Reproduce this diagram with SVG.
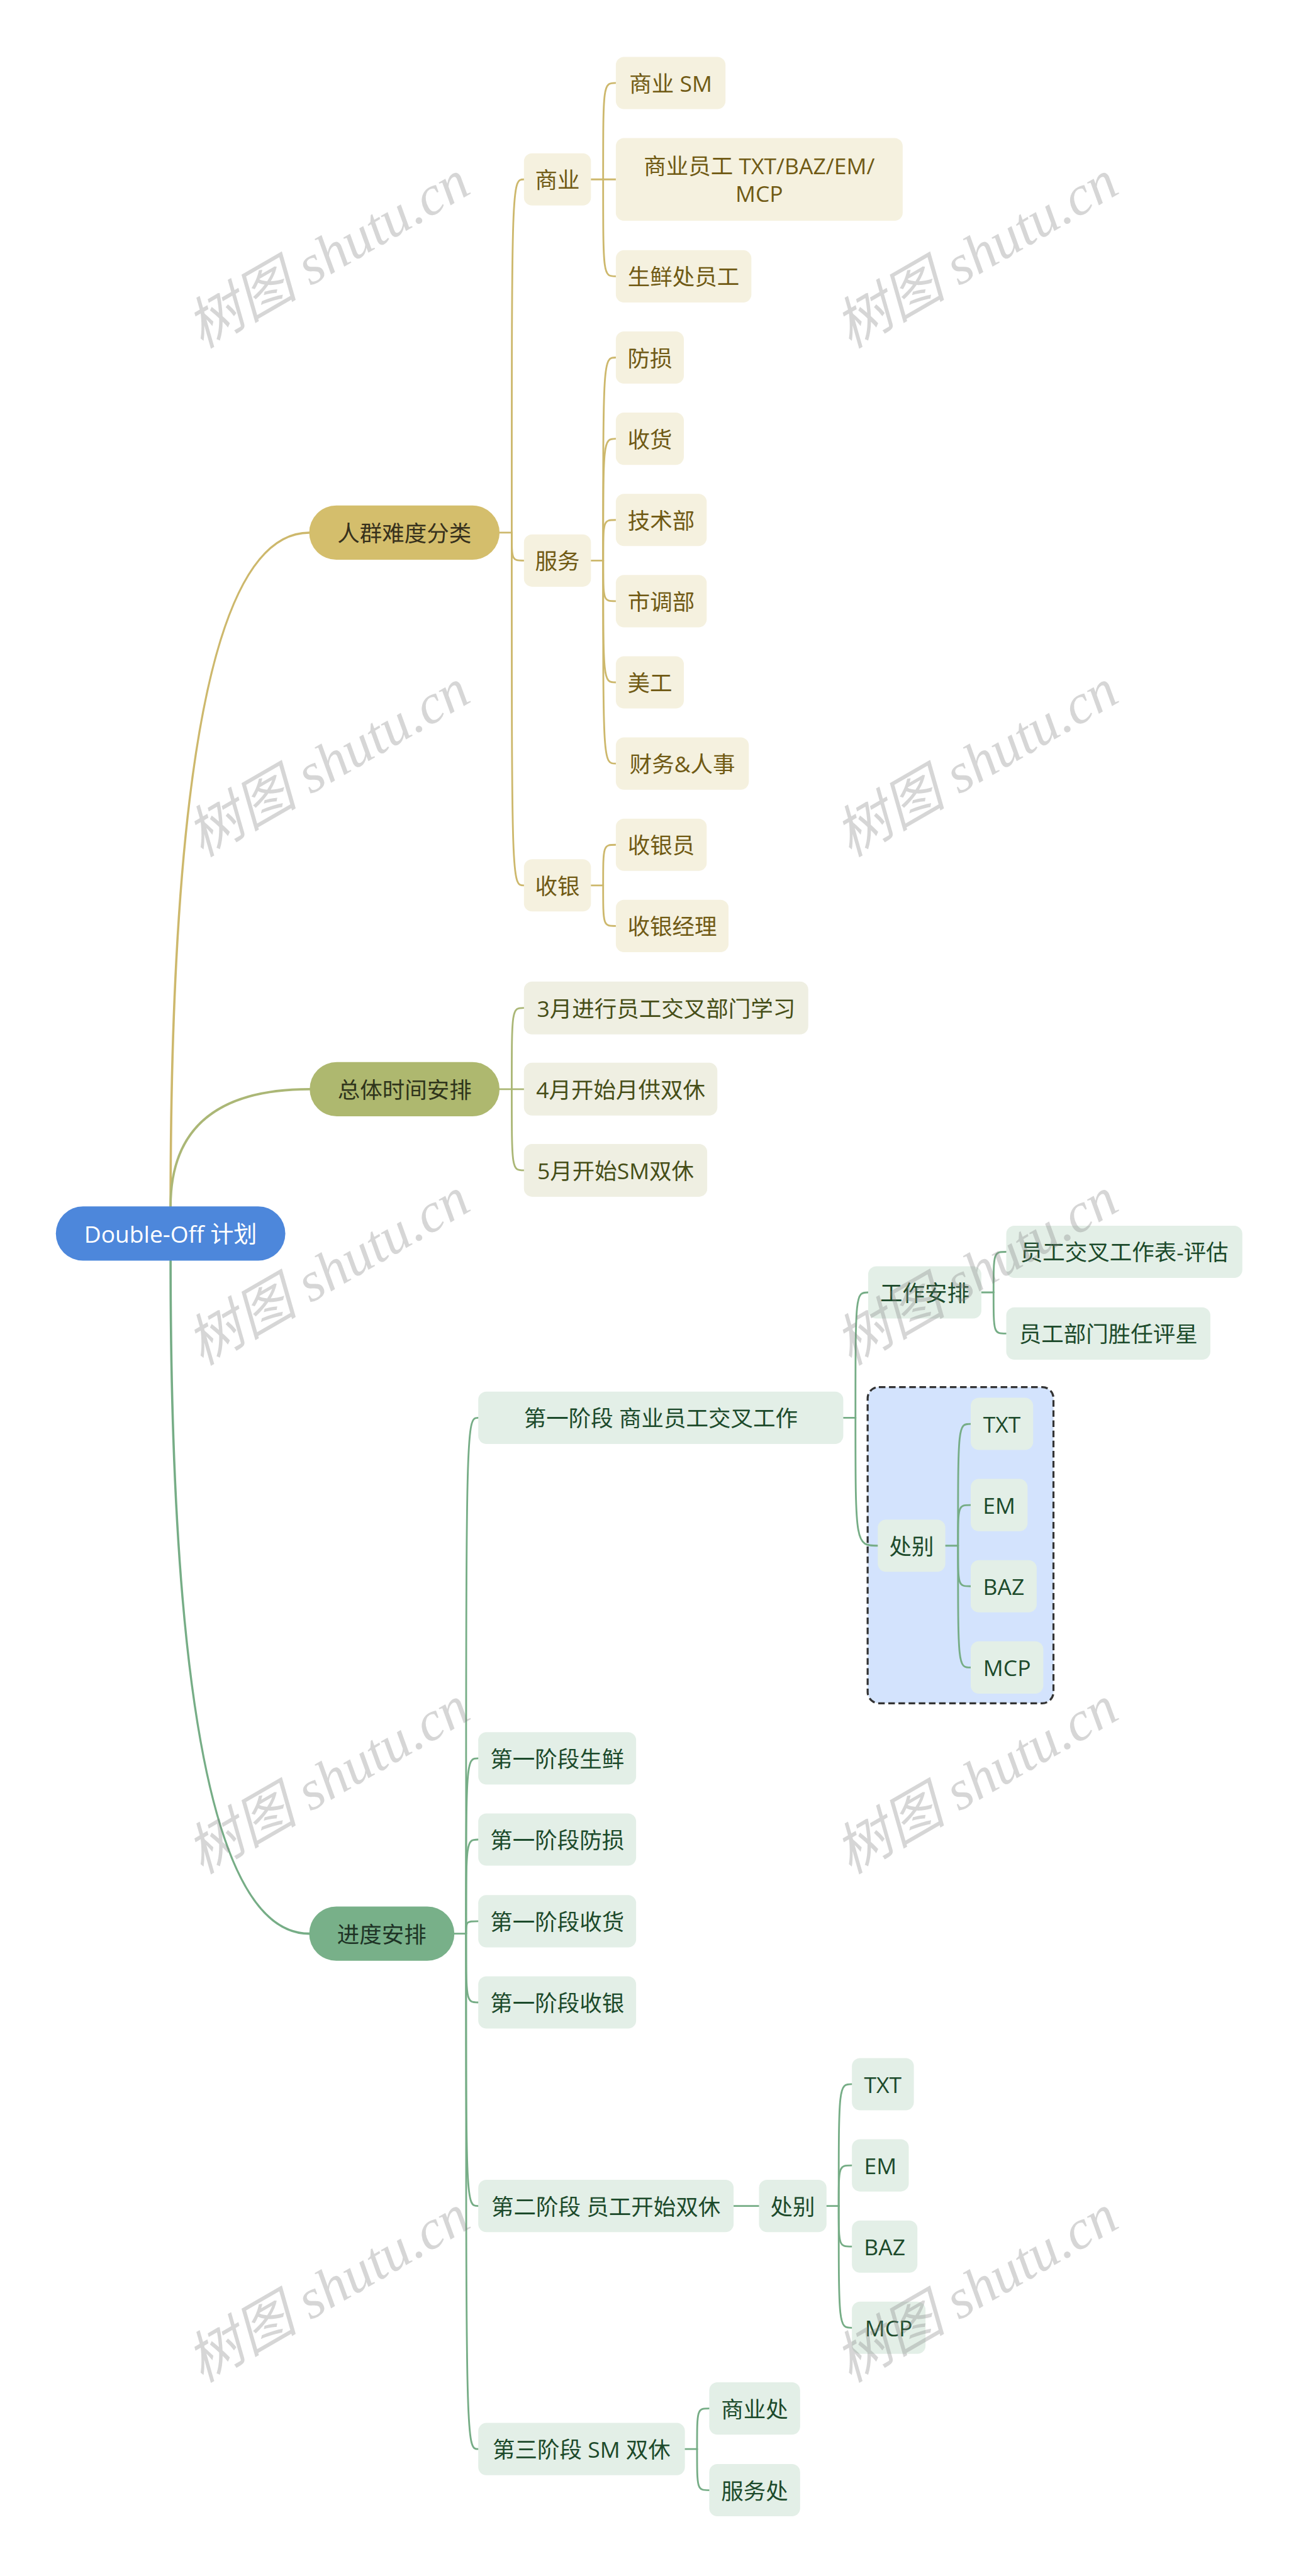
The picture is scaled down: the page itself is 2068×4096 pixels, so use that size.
<svg xmlns="http://www.w3.org/2000/svg" width="2068" height="4096" viewBox="0 0 2068 4096">
<style>
.t{font-family:"Open Sans","Noto Sans CJK SC",sans-serif;font-size:44px;text-anchor:middle;dominant-baseline:central}
.root rect{fill:#4d87db}.root text{fill:#ffffff;font-size:46px}
.g1 rect{fill:#d4be6c}.g1 text{fill:#37311c}
.g2 rect{fill:#f5f1df}.g2 text{fill:#705a14}
.o1 rect{fill:#aeb86f}.o1 text{fill:#2f341b}
.o2 rect{fill:#efefe2}.o2 text{fill:#464e17}
.e1 rect{fill:#78b089}.e1 text{fill:#1e3326}
.e2 rect{fill:#e3efe7}.e2 text{fill:#1c4a2b}
.c path{fill:none;stroke-width:3.5;stroke-linecap:round}
.cg path{stroke:#cdb86c}.co path{stroke:#abb776}.ce path{stroke:#76ad86}
.main{stroke-width:4.5 !important}
.wm{font-family:"Liberation Serif","Noto Sans CJK SC",serif;font-style:italic;font-size:110px;fill:#808080;fill-opacity:0.32;text-anchor:middle;dominant-baseline:central}
</style>
<rect width="2068" height="4096" fill="#ffffff"/>
<g transform="scale(0.807)">
<g id="boundary">
<rect x="1709" y="2733" width="366" height="623" rx="22" fill="#d3e3fd" stroke="#333333" stroke-width="4" stroke-dasharray="13 7"/>
</g>
<g id="connectors" class="c">
<g class="cg">
<path class="main" d="M336 2377 Q336 1049.5 609 1049.5"/>
<path d="M984 1049.5 H1008"/>
<path d="M1008 1049.5 C1008 353.5 1008 353.5 1032 353.5"/>
<path d="M1008 1049.5 C1008 1104.5 1008 1104.5 1032 1104.5"/>
<path d="M1008 1049.5 C1008 1744.5 1008 1744.5 1032 1744.5"/>
<path d="M1164 353.5 H1188"/>
<path d="M1188 353.5 C1188 163.5 1188 163.5 1213 163.5"/>
<path d="M1188 353.5 H1213"/>
<path d="M1188 353.5 C1188 544.5 1188 544.5 1213 544.5"/>
<path d="M1164 1104.5 H1188"/>
<path d="M1188 1104.5 C1188 704.5 1188 704.5 1213 704.5"/>
<path d="M1188 1104.5 C1188 864.5 1188 864.5 1213 864.5"/>
<path d="M1188 1104.5 C1188 1024.5 1188 1024.5 1213 1024.5"/>
<path d="M1188 1104.5 C1188 1184.5 1188 1184.5 1213 1184.5"/>
<path d="M1188 1104.5 C1188 1344.5 1188 1344.5 1213 1344.5"/>
<path d="M1188 1104.5 C1188 1504.5 1188 1504.5 1213 1504.5"/>
<path d="M1164 1744.5 H1188"/>
<path d="M1188 1744.5 C1188 1664.5 1188 1664.5 1213 1664.5"/>
<path d="M1188 1744.5 C1188 1824.5 1188 1824.5 1213 1824.5"/>
</g>
<g class="co">
<path class="main" d="M336 2377 Q336 2146 610 2146"/>
<path d="M984 2146 H1008"/>
<path d="M1008 2146 C1008 1986 1008 1986 1032 1986"/>
<path d="M1008 2146 H1032"/>
<path d="M1008 2146 C1008 2306 1008 2306 1032 2306"/>
</g>
<g class="ce">
<path class="main" d="M336 2484 Q336 3810 609 3810"/>
<path d="M895 3810 H918"/>
<path d="M918 3810 C918 2793.5 918 2793.5 942 2793.5"/>
<path d="M918 3810 C918 3464.5 918 3464.5 942 3464.5"/>
<path d="M918 3810 C918 3624.5 918 3624.5 942 3624.5"/>
<path d="M918 3810 C918 3785.5 918 3785.5 942 3785.5"/>
<path d="M918 3810 C918 3945.5 918 3945.5 942 3945.5"/>
<path d="M918 3810 C918 4346.5 918 4346.5 942 4346.5"/>
<path d="M918 3810 C918 4825.5 918 4825.5 942 4825.5"/>
<path d="M1661 2793.5 H1685"/>
<path d="M1685 2793.5 C1685 2546.5 1685 2546.5 1710 2546.5"/>
<path d="M1685 2793.5 C1685 3045.5 1685 3045.5 1729 3045.5"/>
<path d="M1933 2546.5 H1957"/>
<path d="M1957 2546.5 C1957 2466.5 1957 2466.5 1982 2466.5"/>
<path d="M1957 2546.5 C1957 2627.5 1957 2627.5 1982 2627.5"/>
<path d="M1862 3045.5 H1887"/>
<path d="M1887 3045.5 C1887 2805.5 1887 2805.5 1912 2805.5"/>
<path d="M1887 3045.5 C1887 2965.5 1887 2965.5 1912 2965.5"/>
<path d="M1887 3045.5 C1887 3125.5 1887 3125.5 1912 3125.5"/>
<path d="M1887 3045.5 C1887 3285.5 1887 3285.5 1912 3285.5"/>
<path d="M1445 4346.5 H1495"/>
<path d="M1628 4346.5 H1652"/>
<path d="M1652 4346.5 C1652 4106.5 1652 4106.5 1678 4106.5"/>
<path d="M1652 4346.5 C1652 4266.5 1652 4266.5 1678 4266.5"/>
<path d="M1652 4346.5 C1652 4426.5 1652 4426.5 1678 4426.5"/>
<path d="M1652 4346.5 C1652 4586.5 1652 4586.5 1678 4586.5"/>
<path d="M1349 4825.5 H1373"/>
<path d="M1373 4825.5 C1373 4745.5 1373 4745.5 1397 4745.5"/>
<path d="M1373 4825.5 C1373 4906.5 1373 4906.5 1397 4906.5"/>
</g>
</g>
<g id="root" class="root"><rect x="110" y="2377" width="452" height="107" rx="53.5"/><text class="t" x="336" y="2430.5">Double-Off 计划</text></g>
<g id="n-renqun" class="g1"><rect x="609" y="996" width="375" height="107" rx="53.5"/><text class="t" x="796.5" y="1049.5">人群难度分类</text></g>
<g id="n-shangye" class="g2"><rect x="1032" y="302" width="132" height="103" rx="16"/><text class="t" x="1098" y="353.5">商业</text></g>
<g id="n-sm" class="g2"><rect x="1213" y="112" width="216" height="103" rx="16"/><text class="t" x="1321" y="163.5">商业 SM</text></g>
<g id="n-syyg" class="g2"><rect x="1213" y="272" width="565" height="163" rx="16"/><text class="t" x="1495.5" y="326.5">商业员工 TXT/BAZ/EM/</text><text class="t" x="1495.5" y="380.5">MCP</text></g>
<g id="n-sxc" class="g2"><rect x="1213" y="493" width="267" height="103" rx="16"/><text class="t" x="1346.5" y="544.5">生鲜处员工</text></g>
<g id="n-fuwu" class="g2"><rect x="1032" y="1053" width="132" height="103" rx="16"/><text class="t" x="1098" y="1104.5">服务</text></g>
<g id="n-fangsun" class="g2"><rect x="1213" y="653" width="134" height="103" rx="16"/><text class="t" x="1280" y="704.5">防损</text></g>
<g id="n-shouhuo" class="g2"><rect x="1213" y="813" width="134" height="103" rx="16"/><text class="t" x="1280" y="864.5">收货</text></g>
<g id="n-jishu" class="g2"><rect x="1213" y="973" width="179" height="103" rx="16"/><text class="t" x="1302.5" y="1024.5">技术部</text></g>
<g id="n-shidiao" class="g2"><rect x="1213" y="1133" width="179" height="103" rx="16"/><text class="t" x="1302.5" y="1184.5">市调部</text></g>
<g id="n-meigong" class="g2"><rect x="1213" y="1293" width="134" height="103" rx="16"/><text class="t" x="1280" y="1344.5">美工</text></g>
<g id="n-caiwu" class="g2"><rect x="1213" y="1453" width="262" height="103" rx="16"/><text class="t" x="1344" y="1504.5">财务&amp;人事</text></g>
<g id="n-shouyin" class="g2"><rect x="1032" y="1693" width="132" height="103" rx="16"/><text class="t" x="1098" y="1744.5">收银</text></g>
<g id="n-syy" class="g2"><rect x="1213" y="1613" width="179" height="103" rx="16"/><text class="t" x="1302.5" y="1664.5">收银员</text></g>
<g id="n-syjl" class="g2"><rect x="1213" y="1773" width="222" height="103" rx="16"/><text class="t" x="1324" y="1824.5">收银经理</text></g>
<g id="n-zongti" class="o1"><rect x="610" y="2092.5" width="374" height="107" rx="53.5"/><text class="t" x="797" y="2146">总体时间安排</text></g>
<g id="n-m3" class="o2"><rect x="1032" y="1934" width="560" height="104" rx="16"/><text class="t" x="1312" y="1986">3月进行员工交叉部门学习</text></g>
<g id="n-m4" class="o2"><rect x="1032" y="2094" width="381" height="104" rx="16"/><text class="t" x="1222.5" y="2146">4月开始月供双休</text></g>
<g id="n-m5" class="o2"><rect x="1032" y="2254" width="361" height="104" rx="16"/><text class="t" x="1212.5" y="2306">5月开始SM双休</text></g>
<g id="n-jindu" class="e1"><rect x="609" y="3756.5" width="286" height="107" rx="53.5"/><text class="t" x="752" y="3810">进度安排</text></g>
<g id="n-p1" class="e2"><rect x="942" y="2742" width="719" height="103" rx="16"/><text class="t" x="1301.5" y="2793.5">第一阶段 商业员工交叉工作</text></g>
<g id="n-gzap" class="e2"><rect x="1710" y="2495" width="223" height="103" rx="16"/><text class="t" x="1821.5" y="2546.5">工作安排</text></g>
<g id="n-pg" class="e2"><rect x="1982" y="2415" width="465" height="103" rx="16"/><text class="t" x="2214.5" y="2466.5">员工交叉工作表-评估</text></g>
<g id="n-px" class="e2"><rect x="1982" y="2576" width="402" height="103" rx="16"/><text class="t" x="2183" y="2627.5">员工部门胜任评星</text></g>
<g id="n-cb1" class="e2"><rect x="1729" y="2994" width="133" height="103" rx="16"/><text class="t" x="1795.5" y="3045.5">处别</text></g>
<g id="n-txt1" class="e2"><rect x="1912" y="2754" width="123" height="103" rx="16"/><text class="t" x="1973.5" y="2805.5">TXT</text></g>
<g id="n-em1" class="e2"><rect x="1912" y="2914" width="112" height="103" rx="16"/><text class="t" x="1968" y="2965.5">EM</text></g>
<g id="n-baz1" class="e2"><rect x="1912" y="3074" width="130" height="103" rx="16"/><text class="t" x="1977" y="3125.5">BAZ</text></g>
<g id="n-mcp1" class="e2"><rect x="1912" y="3234" width="143" height="103" rx="16"/><text class="t" x="1983.5" y="3285.5">MCP</text></g>
<g id="n-sx" class="e2"><rect x="942" y="3413" width="311" height="103" rx="16"/><text class="t" x="1097.5" y="3464.5">第一阶段生鲜</text></g>
<g id="n-fs" class="e2"><rect x="942" y="3573" width="311" height="103" rx="16"/><text class="t" x="1097.5" y="3624.5">第一阶段防损</text></g>
<g id="n-sh" class="e2"><rect x="942" y="3734" width="311" height="103" rx="16"/><text class="t" x="1097.5" y="3785.5">第一阶段收货</text></g>
<g id="n-sy" class="e2"><rect x="942" y="3894" width="311" height="103" rx="16"/><text class="t" x="1097.5" y="3945.5">第一阶段收银</text></g>
<g id="n-p2" class="e2"><rect x="942" y="4295" width="503" height="103" rx="16"/><text class="t" x="1193.5" y="4346.5">第二阶段 员工开始双休</text></g>
<g id="n-cb2" class="e2"><rect x="1495" y="4295" width="133" height="103" rx="16"/><text class="t" x="1561.5" y="4346.5">处别</text></g>
<g id="n-txt2" class="e2"><rect x="1678" y="4055" width="122" height="103" rx="16"/><text class="t" x="1739" y="4106.5">TXT</text></g>
<g id="n-em2" class="e2"><rect x="1678" y="4215" width="112" height="103" rx="16"/><text class="t" x="1734" y="4266.5">EM</text></g>
<g id="n-baz2" class="e2"><rect x="1678" y="4375" width="129" height="103" rx="16"/><text class="t" x="1742.5" y="4426.5">BAZ</text></g>
<g id="n-mcp2" class="e2"><rect x="1678" y="4535" width="145" height="103" rx="16"/><text class="t" x="1750.5" y="4586.5">MCP</text></g>
<g id="n-p3" class="e2"><rect x="942" y="4774" width="407" height="103" rx="16"/><text class="t" x="1145.5" y="4825.5">第三阶段 SM 双休</text></g>
<g id="n-syc" class="e2"><rect x="1397" y="4694" width="179" height="103" rx="16"/><text class="t" x="1486.5" y="4745.5">商业处</text></g>
<g id="n-fwc" class="e2"><rect x="1397" y="4855" width="179" height="103" rx="16"/><text class="t" x="1486.5" y="4906.5">服务处</text></g>
<g id="watermarks">
<text class="wm" x="646" y="501" transform="rotate(-30 646 501)">树图 shutu.cn</text>
<text class="wm" x="1923" y="501" transform="rotate(-30 1923 501)">树图 shutu.cn</text>
<text class="wm" x="646" y="1503" transform="rotate(-30 646 1503)">树图 shutu.cn</text>
<text class="wm" x="1923" y="1503" transform="rotate(-30 1923 1503)">树图 shutu.cn</text>
<text class="wm" x="646" y="2505" transform="rotate(-30 646 2505)">树图 shutu.cn</text>
<text class="wm" x="1923" y="2505" transform="rotate(-30 1923 2505)">树图 shutu.cn</text>
<text class="wm" x="646" y="3507" transform="rotate(-30 646 3507)">树图 shutu.cn</text>
<text class="wm" x="1923" y="3507" transform="rotate(-30 1923 3507)">树图 shutu.cn</text>
<text class="wm" x="646" y="4509" transform="rotate(-30 646 4509)">树图 shutu.cn</text>
<text class="wm" x="1923" y="4509" transform="rotate(-30 1923 4509)">树图 shutu.cn</text>
</g>
</g>
</svg>
